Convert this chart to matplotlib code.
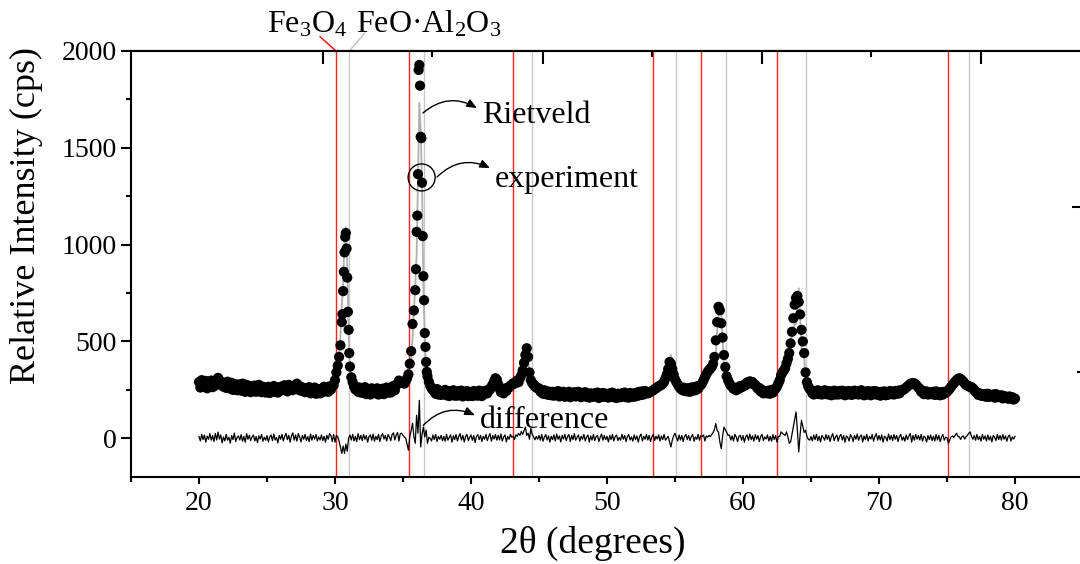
import numpy as np
import matplotlib
matplotlib.use('Agg')
import matplotlib.pyplot as plt
from matplotlib.patches import Ellipse
from matplotlib.ticker import FixedLocator, MultipleLocator

plt.rcParams['font.family'] = ['Liberation Serif', 'DejaVu Serif']
plt.rcParams['mathtext.fontset'] = 'custom'
plt.rcParams['mathtext.rm'] = 'Liberation Serif'

# ---------------- data ----------------
theta_start, theta_step = 20.0, 0.1

# measured intensity (cps), one row per degree (x.0 ... x.9), final value at 80.0
intensity_rows = [
    [290, 262, 300, 268, 284, 296, 258, 288, 270, 298],   # 20
    [264, 294, 272, 298, 312, 300, 280, 290, 266, 284],   # 21
    [260, 292, 270, 256, 286, 250, 280, 266, 248, 278],   # 22
    [268, 246, 282, 254, 240, 276, 250, 270, 238, 266],   # 23
    [256, 272, 240, 262, 276, 244, 238, 266, 252, 236],   # 24
    [248, 266, 234, 262, 244, 270, 240, 258, 236, 264],   # 25
    [246, 268, 250, 274, 256, 242, 276, 258, 268, 250],   # 26
    [272, 254, 282, 264, 248, 266, 244, 260, 238, 256],   # 27
    [244, 264, 232, 256, 240, 262, 230, 254, 244, 232],   # 28
    [256, 238, 266, 246, 260, 240, 268, 252, 270, 274],   # 29
    [300, 340, 375, 420, 480, 600, 760, 960, 1060, 830],  # 30
    [560, 370, 315, 290, 268, 252, 264, 240, 262, 236],   # 31
    [256, 234, 264, 228, 254, 240, 226, 258, 236, 250],   # 32
    [232, 258, 226, 250, 236, 256, 228, 248, 262, 236],   # 33
    [252, 236, 266, 270, 248, 276, 280, 298, 286, 290],   # 34
    [290, 282, 295, 310, 330, 385, 450, 590, 660, 765],   # 35
    [1066, 1364, 1928, 1557, 1320, 837, 543, 394, 320, 292],  # 36
    [272, 258, 250, 240, 230, 254, 226, 246, 224, 244],   # 37
    [230, 250, 222, 244, 218, 240, 228, 248, 220, 238],   # 38
    [220, 244, 226, 246, 216, 238, 224, 244, 218, 236],   # 39
    [236, 218, 244, 222, 238, 220, 246, 230, 218, 242],   # 40
    [230, 246, 232, 250, 252, 266, 278, 295, 310, 302],   # 41
    [280, 256, 238, 250, 232, 256, 244, 262, 262, 272],   # 42
    [276, 284, 282, 290, 298, 290, 310, 325, 350, 390],   # 43
    [430, 465, 420, 340, 300, 285, 278, 270, 262, 258],   # 44
    [258, 242, 236, 230, 248, 228, 242, 224, 240, 222],   # 45
    [240, 220, 236, 226, 244, 216, 232, 224, 240, 214],   # 46
    [232, 220, 240, 212, 230, 218, 238, 216, 228, 240],   # 47
    [226, 212, 234, 220, 238, 214, 228, 210, 232, 218],   # 48
    [214, 232, 220, 236, 208, 228, 216, 234, 214, 230],   # 49
    [226, 210, 232, 216, 236, 212, 226, 208, 230, 218],   # 50
    [212, 232, 218, 236, 212, 228, 210, 234, 220, 214],   # 51
    [232, 216, 236, 220, 240, 224, 242, 226, 244, 238],   # 52
    [232, 236, 240, 244, 248, 254, 258, 264, 268, 272],   # 53
    [276, 282, 292, 310, 330, 358, 394, 385, 358, 330],   # 54
    [305, 290, 278, 266, 258, 250, 262, 244, 258, 242],   # 55
    [258, 240, 262, 246, 264, 248, 268, 256, 270, 275],   # 56
    [284, 300, 316, 330, 343, 352, 360, 368, 385, 420],   # 57
    [506, 600, 679, 661, 594, 520, 430, 368, 320, 300],   # 58
    [285, 272, 266, 256, 260, 248, 262, 256, 270, 264],   # 59
    [268, 276, 274, 288, 282, 294, 291, 290, 278, 276],   # 60
    [266, 256, 260, 242, 250, 232, 244, 236, 232, 246],   # 61
    [230, 250, 236, 252, 256, 268, 284, 300, 326, 340],   # 62
    [350, 362, 387, 410, 440, 490, 550, 620, 690, 725],   # 63
    [735, 704, 640, 560, 500, 440, 340, 290, 268, 255],   # 64
    [248, 232, 226, 244, 230, 248, 228, 244, 226, 242],   # 65
    [248, 228, 244, 226, 242, 222, 240, 246, 226, 242],   # 66
    [226, 244, 228, 246, 232, 222, 242, 226, 244, 230],   # 67
    [224, 242, 246, 228, 242, 226, 240, 248, 228, 222],   # 68
    [240, 226, 244, 230, 222, 242, 228, 244, 226, 240],   # 69
    [228, 220, 240, 224, 242, 222, 238, 226, 244, 228],   # 70
    [240, 226, 244, 230, 246, 232, 248, 246, 252, 256],   # 71
    [262, 268, 274, 280, 284, 282, 284, 278, 270, 262],   # 72
    [254, 240, 246, 228, 238, 242, 226, 236, 228, 238],   # 73
    [240, 224, 242, 226, 236, 222, 238, 226, 240, 234],   # 74
    [240, 248, 256, 266, 276, 284, 292, 300, 306, 310],   # 75
    [306, 300, 292, 284, 276, 272, 268, 266, 265, 258],   # 76
    [250, 240, 236, 224, 232, 220, 226, 218, 228, 214],   # 77
    [230, 214, 224, 218, 226, 210, 228, 212, 220, 216],   # 78
    [222, 206, 218, 210, 214, 204, 216, 206, 212, 200],   # 79
    [205],                                                # 80
]

# difference curve (observed - calculated), same grid
difference_rows = [
    [9, -14, 20, -7, 17, -20, 11, -5, 24, -10],       # 20
    [14, -17, 25, -9, 32, -4, 17, -24, 7, -14],       # 21
    [20, -10, 5, -25, 14, -7, 27, -17, 4, 12],        # 22
    [-9, 19, -15, 10, -20, 24, -5, 15, -12, 7],       # 23
    [17, -14, 9, -22, 12, -4, 20, -15, 5, -10],       # 24
    [14, -19, 7, 17, -12, 22, -9, 4, -24, 15],        # 25
    [-5, 20, -14, 10, 25, -7, 15, -20, 12, 28],       # 26
    [-10, 17, -15, 24, 7, -19, 14, -5, 20, -12],      # 27
    [9, -17, 22, -10, 15, -4, 19, -14, 7, -9],        # 28
    [17, -12, 10, -20, 15, -5, 24, 14, -17, 20],      # 29
    [-20, 15, 8, -15, -45, -78, -40, -78, -30, -67],  # 30
    [0, 17, -9, 20, -14, 10, -17, 24, -7, 15],        # 31
    [-12, 19, -5, 14, -20, 9, 17, -10, 22, -15],      # 32
    [10, -7, 20, -17, 12, 25, -4, 15, -14, 19],       # 33
    [7, -12, 20, 28, -9, 17, 30, -14, 24, 26],        # 34
    [15, 7, 0, -30, -62, 10, 40, 78, 10, -26],        # 35
    [119, 26, 196, -45, 20, 58, 7, 42, -26, 5],       # 36
    [0, -14, 17, -7, 20, -17, 10, -5, 15, -12],       # 37
    [9, -15, 20, -10, 5, 17, -20, 12, -7, 19],        # 38
    [-14, 10, 24, -9, 15, -19, 7, 20, -12, 5],        # 39
    [17, -10, 14, -22, 9, 19, -7, 15, -17, 10],       # 40
    [-5, 20, -12, 9, 24, -15, 14, -4, 19, -10],       # 41
    [15, -9, 22, -14, 7, 17, -19, 10, -5, 20],        # 42
    [5, 10, -6, 18, 10, 25, 15, 35, 20, 40],          # 43
    [58, 15, 26, -5, 50, 20, 7, -8, 10, -5],          # 44
    [14, -10, 20, -15, 7, 19, -9, 12, -20, 10],       # 45
    [-7, 17, -14, 22, -5, 12, -19, 15, -4, 20],       # 46
    [-12, 9, 19, -17, 14, -7, 24, -10, 5, 17],        # 47
    [-15, 10, -5, 20, -14, 7, 17, -20, 12, -9],       # 48
    [19, -12, 9, 15, -17, 5, 22, -10, 14, -7],        # 49
    [10, -19, 15, -7, 20, -14, 9, 17, -12, 5],        # 50
    [-10, 20, -5, 14, -17, 10, 19, -9, 7, -15],       # 51
    [17, -7, 12, -20, 9, 22, -14, 10, -5, 19],        # 52
    [-9, 15, -17, 7, 20, -12, 10, -4, 17, -14],       # 53
    [12, -7, 20, -10, 0, 10, -20, -45, -10, 12],      # 54
    [26, 5, -14, 17, -9, 14, -17, 10, 20, -7],        # 55
    [15, -12, 9, 19, -15, 7, -5, 20, -10, 14],        # 56
    [9, 17, -14, 12, 6, 15, 8, 20, 30, 45],           # 57
    [76, 40, 31, -20, -53, 10, 58, 45, 31, 15],       # 58
    [17, -9, 12, -14, 20, 7, -17, 10, 15, -10],       # 59
    [14, -20, 9, 17, -10, 22, -7, 12, -15, 19],       # 60
    [-5, 14, -17, 9, 20, -12, 7, -4, 17, -14],        # 61
    [10, -15, 19, -7, 14, -20, 9, 10, 33, 25],        # 62
    [20, 15, 33, 7, -26, -19, 20, 60, 100, 136],      # 63
    [40, -71, 20, 93, 62, 30, 41, 10, -5, -10],       # 64
    [9, -14, 17, -7, 20, -12, 10, -19, 14, 5],        # 65
    [-10, 19, -5, 15, -17, 9, 24, -12, 7, 17],        # 66
    [-15, 10, 20, -9, 14, -20, 12, 5, -14, 19],       # 67
    [7, -17, 15, -5, 22, -10, 9, 17, -19, 12],        # 68
    [-7, 20, -14, 10, -4, 19, -15, 9, 24, -10],       # 69
    [14, -9, 17, -20, 10, 5, -14, 22, -7, 15],        # 70
    [-12, 19, -5, 14, -17, 9, 20, -10, 7, -15],       # 71
    [17, -7, 12, 25, -20, 15, -10, 19, -5, 14],       # 72
    [-9, 20, -15, 10, 5, -19, 14, -7, 17, -12],       # 73
    [10, -14, 20, -9, 15, -17, 7, 19, -10, 5],        # 74
    [4, -26, -10, 8, 12, 5, 15, 26, 10, 8],           # 75
    [-6, 9, 12, -4, 8, 15, 26, 33, 10, -5],           # 76
    [14, -10, 19, -7, 9, -15, 20, -5, 12, -14],       # 77
    [17, -9, 10, -19, 14, 5, -12, 20, -7, 15],        # 78
    [-10, 19, -5, 12, -15, 9, 17, -14, 7, -4],        # 79
    [10],                                             # 80
]

# additional measured points on the steep flanks of the two strongest peaks
extra_theta = [30.55, 30.65, 30.75, 30.85, 30.95, 31.05,
               35.95, 36.05, 36.15, 36.25, 36.35, 36.45, 36.55, 36.65, 36.75]
extra_counts = [641, 860, 1040, 980, 653, 440,
                873, 1150, 1902, 1821, 1550, 1044, 713, 472, 343]

# reference reflection positions (2theta)
fe3o4_peaks = [30.1, 35.42, 43.1, 53.35, 56.9, 62.5, 75.05]
hercynite_peaks = [31.0, 36.55, 44.45, 55.1, 58.75, 64.6, 76.62]

x_ticks = [20, 30, 40, 50, 60, 70, 80]
y_ticks = [0, 500, 1000, 1500, 2000]
top_major_ticks = [29.13, 45.26, 61.38, 77.5]
top_minor_ticks = [37.16, 53.29, 69.41]
right_major_ticks = [1194]
right_minor_ticks = [341]

# ---------------- derived ----------------
intensity = np.array([v for row in intensity_rows for v in row], dtype=float)
difference = np.array([v for row in difference_rows for v in row], dtype=float)
two_theta = np.round(theta_start + theta_step * np.arange(len(intensity)), 2)
rietveld = intensity - difference

scatter_theta = np.concatenate([two_theta, extra_theta])
scatter_counts = np.concatenate([intensity, extra_counts])

# ---------------- figure ----------------
fig = plt.figure(figsize=(10.8, 5.64), dpi=100)
ax = fig.add_axes([131 / 1080, (564 - 477) / 564, 952 / 1080, 426 / 564])
ax.set_xlim(15, 85)
ax.set_ylim(-200, 2000)

for p in fe3o4_peaks:
    ax.axvline(p, color='#ff2020', lw=1.0, zorder=1)
for p in hercynite_peaks:
    ax.axvline(p, color='#c8c8c8', lw=1.0, zorder=1)

ax.plot(two_theta, rietveld, color='#b0b0b0', lw=1.3, zorder=2)
ax.scatter(scatter_theta, scatter_counts, s=54, color='black', edgecolors='none', zorder=3)
ax.plot(two_theta, difference, color='black', lw=0.9, zorder=3)

# axes styling
for side in ['left', 'bottom', 'top', 'right']:
    ax.spines[side].set_linewidth(1.5)
ax.set_xticks(x_ticks)
ax.xaxis.set_minor_locator(MultipleLocator(5))
ax.set_yticks(y_ticks)
ax.yaxis.set_minor_locator(MultipleLocator(250))
ax.tick_params(axis='both', which='major', direction='out', labelsize=20, width=1.5)
ax.tick_params(axis='x', which='major', length=5, pad=5)
ax.tick_params(axis='y', which='major', length=7, pad=3)
ax.tick_params(axis='both', which='minor', direction='out', length=3.5, width=1.5)
ax.tick_params(top=False, right=False, which='both')

secx = ax.secondary_xaxis('top')
secx.xaxis.set_major_locator(FixedLocator(top_major_ticks))
secx.xaxis.set_minor_locator(FixedLocator(top_minor_ticks))
secx.tick_params(which='major', direction='in', length=9, width=1.5, labeltop=False)
secx.tick_params(which='minor', direction='in', length=4, width=1.5)
secx.spines['top'].set_linewidth(1.5)

secy = ax.secondary_yaxis('right')
secy.yaxis.set_major_locator(FixedLocator(right_major_ticks))
secy.yaxis.set_minor_locator(FixedLocator(right_minor_ticks))
secy.tick_params(which='major', direction='in', length=8, width=1.5, labelright=False)
secy.tick_params(which='minor', direction='in', length=4, width=1.5)

ax.set_xlabel('2θ (degrees)', fontsize=27)
ax.set_ylabel('Relative Intensity (cps)', fontsize=26)
ax.xaxis.set_label_coords(0.485, -0.115)
ax.yaxis.set_label_coords(-0.092, 0.615)

# phase labels with leader lines
ax.text(24.98, 2093, r'$\mathregular{Fe_3O_4}$', fontsize=23, ha='left', va='baseline', clip_on=False)
ax.text(31.54, 2093, r'FeO·Al$\mathregular{_2}$O$\mathregular{_3}$', fontsize=23, ha='left', va='baseline', clip_on=False)
ax.plot([30.07, 28.9], [2000, 2074], color='red', lw=1.0, clip_on=False)
ax.plot([31.05, 32.2], [2000, 2093], color='#c0c0c0', lw=1.0, clip_on=False)

# annotations
arrow_kw = dict(arrowstyle='-|>,head_length=0.6,head_width=0.25', color='black', lw=1.0,
                connectionstyle='arc3,rad=-0.35', shrinkA=0, shrinkB=0)
ax.annotate('', xy=(40.44, 1705), xytext=(36.47, 1680), arrowprops=arrow_kw)
ax.text(40.79, 1628, 'Rietveld', fontsize=23, ha='left', va='baseline')
ax.annotate('', xy=(41.4, 1395), xytext=(37.5, 1349), arrowprops=arrow_kw)
ax.text(41.76, 1299, 'experiment', fontsize=23, ha='left', va='baseline')
ax.add_patch(Ellipse((36.37, 1347), 1.985, 139.5, fill=False, edgecolor='black', lw=1.0, zorder=4))
ax.annotate('', xy=(40.29, 119), xytext=(36.49, 67), arrowprops=arrow_kw)
ax.text(40.66, 52, 'difference', fontsize=23, ha='left', va='baseline')

fig.savefig('out.png', dpi=100)
